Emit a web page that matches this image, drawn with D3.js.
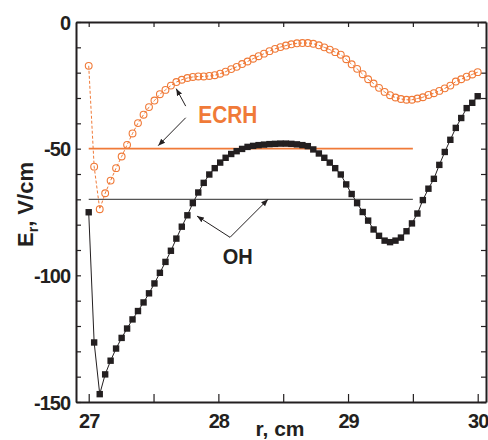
<!DOCTYPE html>
<html>
<head>
<meta charset="utf-8">
<script src="https://cdn.jsdelivr.net/npm/d3@7"></script>
<style>
  html, body { margin: 0; padding: 0; background: #fff; }
  svg { display: block; }
  text { font-family: "Liberation Sans", Arial, Helvetica, sans-serif; font-weight: bold; }
</style>
</head>
<body>
<svg id="chart" width="488" height="440"></svg>
<script>
// Radial positions of the probe measurements, cm
const radius = [
  27.000, 27.042, 27.085, 27.127, 27.169, 27.211, 27.254, 27.296, 27.338, 27.380,
  27.423, 27.465, 27.507, 27.549, 27.592, 27.634, 27.676, 27.718, 27.761, 27.803,
  27.845, 27.887, 27.930, 27.972, 28.014, 28.056, 28.099, 28.141, 28.183, 28.225,
  28.268, 28.310, 28.352, 28.394, 28.437, 28.479, 28.521, 28.563, 28.606, 28.648,
  28.690, 28.732, 28.775, 28.817, 28.859, 28.901, 28.944, 28.986, 29.028, 29.070,
  29.113, 29.155, 29.197, 29.239, 29.282, 29.324, 29.366, 29.408, 29.451, 29.493,
  29.535, 29.577, 29.620, 29.662, 29.704, 29.746, 29.789, 29.831, 29.873, 29.915,
  29.958, 30.000
];

// Radial electric field with ECRH, V/cm
const erECRH = [
  -17.3, -57.1, -73.9, -67.6, -62.6, -57.7, -53.1, -48.5, -44.0, -39.9,
  -36.6, -33.6, -31.0, -28.5, -26.8, -25.1, -23.7, -22.8, -22.1, -21.7,
  -21.5, -21.5, -21.3, -21.0, -20.4, -19.6, -18.6, -17.7, -16.6, -15.6,
  -14.5, -13.5, -12.5, -11.5, -10.6, -9.9, -9.3, -8.8, -8.4, -8.3,
  -8.3, -8.6, -9.2, -10.0, -10.9, -11.9, -12.9, -14.7, -16.7, -18.5,
  -20.6, -22.6, -24.3, -26.0, -27.6, -28.9, -29.8, -30.4, -30.7, -30.7,
  -30.2, -29.7, -28.8, -28.1, -27.2, -26.2, -25.1, -23.5, -22.6, -21.6,
  -20.7, -19.8
];

// Radial electric field in the ohmic regime, V/cm
const erOH = [
  -75.1, -126.5, -146.9, -139.1, -133.7, -128.9, -124.7, -121.0, -117.4, -114.1,
  -110.7, -107.1, -103.2, -99.0, -94.7, -90.3, -85.5, -80.8, -76.3, -71.5,
  -67.3, -63.5, -60.2, -57.7, -55.5, -53.6, -52.1, -51.0, -50.1, -49.3,
  -48.9, -48.6, -48.4, -48.2, -48.1, -48.0, -48.0, -48.1, -48.3, -48.6,
  -49.0, -50.3, -51.9, -53.6, -55.5, -57.7, -60.2, -64.1, -67.9, -71.5,
  -75.0, -78.4, -81.9, -84.4, -86.3, -86.9, -86.3, -85.1, -82.6, -79.5,
  -75.6, -70.3, -65.8, -61.9, -56.4, -51.3, -46.5, -41.8, -37.9, -34.0,
  -31.9, -29.3
];

// Reference levels drawn as horizontal lines: [value, r start, r end]
const levelECRH = [-50, 27.0, 29.5];
const levelOH = [-70, 27.0, 29.5];

// Axis ticks
const xMajorTicks = [27, 28, 29, 30];
const xMinorTicks = [27.5, 28.5, 29.5];
const yMajorTicks = [0, -50, -100, -150];
const yMinorTicks = [-10, -20, -30, -40, -60, -70, -80, -90, -110, -120, -130, -140];

// Annotations in data units: label [text, r, E], arrows [r0, E0, r1, E1]
const labelECRH = ["ECRH", 27.845, -39.8];
const arrowsECRH = [[27.748, -33.2, 27.675, -26.3], [27.748, -37.8, 27.536, -48.8]];
const labelOH = ["OH", 28.033, -95.4];
const arrowsOH = [[28.09, -85.0, 27.835, -76.6], [28.09, -85.0, 28.383, -70.0]];

const orange = "#f07a38";
const dark = "#231f20";

const svg = d3.select("#chart");
const plotLeft = 76, plotRight = 486, plotTop = 22, plotBottom = 402;

const x = d3.scaleLinear().domain([26.902, 30.064]).range([plotLeft, plotRight]);
const y = d3.scaleLinear().domain([-150, 0]).range([plotBottom, plotTop]);

// Arrowhead marker
svg.append("defs").append("marker")
  .attr("id", "head")
  .attr("viewBox", "0 0 10 10")
  .attr("refX", 10).attr("refY", 5)
  .attr("markerWidth", 7).attr("markerHeight", 7)
  .attr("markerUnits", "userSpaceOnUse")
  .attr("orient", "auto")
  .append("path").attr("d", "M0,1 L10,5 L0,9 Z").attr("fill", dark);

// Frame with inward ticks
const axes = svg.append("g");
const tickStyle = s => s.attr("stroke", dark).attr("stroke-width", 1.2);

const bottomAxis = d3.axisBottom(x).tickValues(xMajorTicks.concat(xMinorTicks))
  .tickSizeInner(-8).tickSizeOuter(0).tickFormat(d => xMajorTicks.includes(d) ? String(d) : "");
const topAxis = d3.axisTop(x).tickValues(xMajorTicks.concat(xMinorTicks))
  .tickSizeInner(-5).tickSizeOuter(0).tickFormat("");
const leftAxis = d3.axisLeft(y).tickValues(yMajorTicks.concat(yMinorTicks))
  .tickSizeInner(-5).tickSizeOuter(0).tickFormat(d => yMajorTicks.includes(d) ? String(d) : "");
const rightAxis = d3.axisRight(y).tickValues(yMajorTicks.concat(yMinorTicks))
  .tickSizeInner(-5).tickSizeOuter(0).tickFormat("");

function styleAxis(g) {
  g.select(".domain").attr("stroke", dark).attr("stroke-width", 2);
  g.selectAll(".tick line").call(tickStyle);
  g.selectAll(".tick text").attr("fill", dark).attr("font-size", 20)
    .attr("font-family", "Liberation Sans, Arial, sans-serif").attr("font-weight", "bold")
    .attr("letter-spacing", -1);
}

axes.append("g").attr("transform", `translate(0,${plotBottom})`).call(bottomAxis).call(styleAxis)
  .selectAll(".tick text").attr("dy", "1.05em").attr("y", 5);
axes.append("g").attr("transform", `translate(0,${plotTop})`).call(topAxis).call(styleAxis);
axes.append("g").attr("transform", `translate(${plotLeft},0)`).call(leftAxis).call(styleAxis)
  .selectAll(".tick text").attr("x", -6).attr("dy", "0.36em");
axes.append("g").attr("transform", `translate(${plotRight},0)`).call(rightAxis).call(styleAxis);

// Horizontal reference levels
svg.append("line")
  .attr("x1", x(levelOH[1])).attr("x2", x(levelOH[2]))
  .attr("y1", y(levelOH[0])).attr("y2", y(levelOH[0]))
  .attr("stroke", "#555").attr("stroke-width", 1.2);
svg.append("line")
  .attr("x1", x(levelECRH[1])).attr("x2", x(levelECRH[2]))
  .attr("y1", y(levelECRH[0])).attr("y2", y(levelECRH[0]))
  .attr("stroke", orange).attr("stroke-width", 1.6);

const ohData = radius.map((r, i) => [r, erOH[i]]);
const ecrhData = radius.map((r, i) => [r, erECRH[i]]);
const line = d3.line().x(d => x(d[0])).y(d => y(d[1]));

// OH profile: thin line with filled squares
svg.append("path").datum(ohData).attr("d", line)
  .attr("fill", "none").attr("stroke", dark).attr("stroke-width", 1);
svg.append("g").selectAll("rect").data(ohData).join("rect")
  .attr("x", d => x(d[0]) - 3.2).attr("y", d => y(d[1]) - 3.2)
  .attr("width", 6.4).attr("height", 6.4).attr("fill", dark);

// ECRH profile: dashed line with open circles
svg.append("path").datum(ecrhData).attr("d", line)
  .attr("fill", "none").attr("stroke", orange).attr("stroke-width", 1)
  .attr("stroke-dasharray", "3,2");
svg.append("g").selectAll("circle").data(ecrhData).join("circle")
  .attr("cx", d => x(d[0])).attr("cy", d => y(d[1])).attr("r", 3.4)
  .attr("fill", "none").attr("stroke", orange).attr("stroke-width", 1.1);

// Annotations
function arrows(list) {
  svg.append("g").selectAll("line").data(list).join("line")
    .attr("x1", d => x(d[0])).attr("y1", d => y(d[1]))
    .attr("x2", d => x(d[2])).attr("y2", d => y(d[3]))
    .attr("stroke", dark).attr("stroke-width", 1)
    .attr("marker-end", "url(#head)");
}
arrows(arrowsECRH);
arrows(arrowsOH);

svg.append("text").attr("x", x(labelECRH[1])).attr("y", y(labelECRH[2]))
  .attr("fill", orange).attr("font-size", 24)
  .attr("textLength", 59).attr("lengthAdjust", "spacingAndGlyphs")
  .text(labelECRH[0]);
svg.append("text").attr("x", x(labelOH[1])).attr("y", y(labelOH[2]))
  .attr("fill", dark).attr("font-size", 22)
  .attr("textLength", 30).attr("lengthAdjust", "spacingAndGlyphs")
  .text(labelOH[0]);

// Axis titles
svg.append("text").attr("x", 280).attr("y", 436).attr("text-anchor", "middle")
  .attr("fill", dark).attr("font-size", 21).text("r, cm");

const yTitle = svg.append("text").attr("transform", "translate(33,247) rotate(-90)")
  .attr("fill", dark).attr("font-size", 22);
yTitle.append("tspan").text("E");
yTitle.append("tspan").attr("font-size", 14).attr("dy", 5).text("r");
yTitle.append("tspan").attr("dy", -5).text(", V/cm");
</script>
</body>
</html>
